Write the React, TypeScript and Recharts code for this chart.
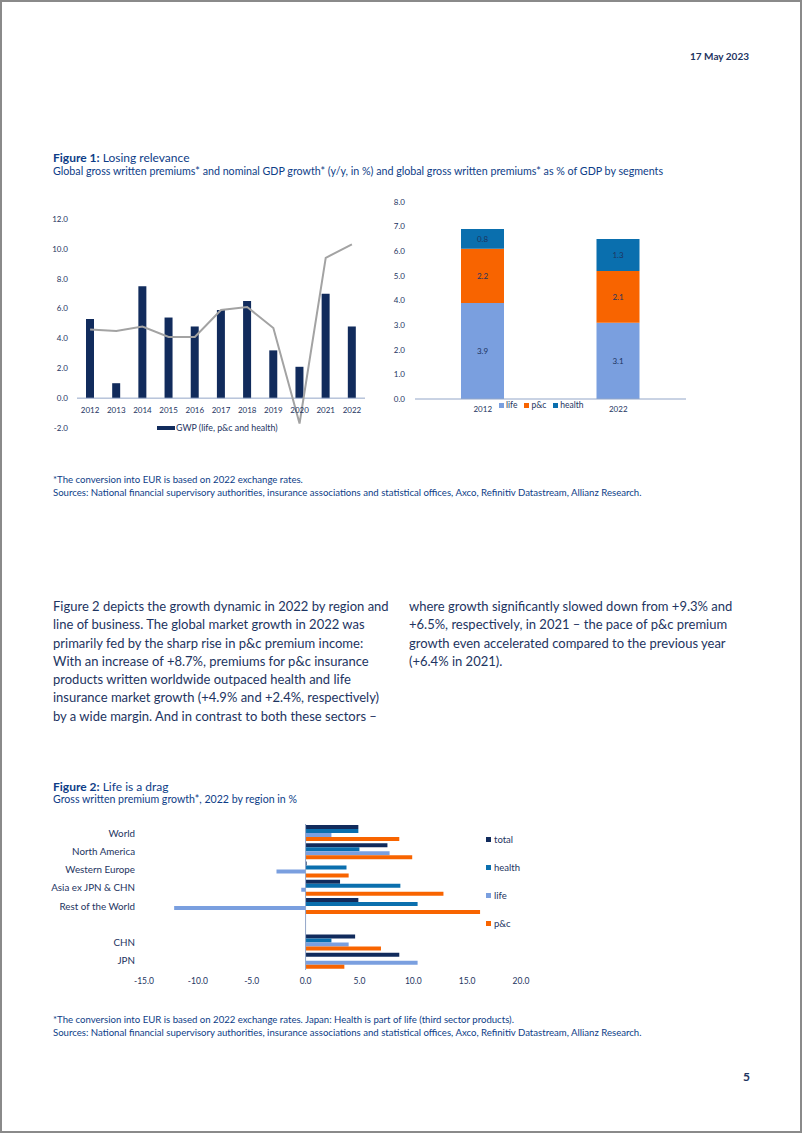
import React from 'react';
import { ComposedChart, BarChart, Bar, Line, XAxis, YAxis, ReferenceLine, Legend, LabelList } from 'recharts';

// Figure 1 (left): growth, y/y in %
const years = ['2012', '2013', '2014', '2015', '2016', '2017', '2018', '2019', '2020', '2021', '2022'];
const gwpGrowth = [5.3, 1.0, 7.5, 5.4, 4.8, 5.9, 6.5, 3.2, 2.1, 7.0, 4.8];
const gdpGrowth = [4.6, 4.5, 4.8, 4.1, 4.1, 5.9, 6.1, 4.7, -1.7, 9.4, 10.3];
const fig1Ticks = [-2, 0, 2, 4, 6, 8, 10, 12];

// Figure 1 (right): GWP as % of GDP by segment
const shareYears = ['2012', '2022'];
const lifeShare = [3.9, 3.1];
const pcShare = [2.2, 2.1];
const healthShare = [0.8, 1.3];
const shareTicks = [0, 1, 2, 3, 4, 5, 6, 7, 8];

// Figure 2: GWP growth 2022 by region, %
const regions = ['World', 'North America', 'Western Europe', 'Asia ex JPN & CHN', 'Rest of the World', ' ', 'CHN', 'JPN'];
const totalGrowth = [4.9, 7.6, 0.1, 3.2, 4.9, null, 4.6, 8.7];
const healthGrowth = [4.9, 5.0, 3.8, 8.8, 10.4, null, 2.4, null];
const lifeGrowth = [2.4, 7.8, -2.7, -0.4, -12.2, null, 4.0, 10.4];
const pcGrowth = [8.7, 9.9, 4.0, 12.8, 16.2, null, 7.0, 3.6];
const fig2Ticks = [-15, -10, -5, 0, 5, 10, 15, 20];

const NAVY = '#112b5c';
const HEALTH = '#0a6fae';
const LIFE = '#7a9fdf';
const PC = '#f86400';
const GREY = '#a3a3a3';
const AXIS = '#93a6c8';
const TXT = '#1d3461';
const BLUE = '#0d3d87';
const FONT = 'Lato, "Open Sans", sans-serif';

const fig1Data = years.map((y, i) => ({ year: y, gwp: gwpGrowth[i], gdp: gdpGrowth[i] }));
const shareData = shareYears.map((y, i) => ({ year: y, life: lifeShare[i], pc: pcShare[i], health: healthShare[i] }));
const regionData = regions.map((r, i) => ({
  region: r,
  total: totalGrowth[i],
  health: healthGrowth[i],
  life: lifeGrowth[i],
  pc: pcGrowth[i],
}));

const fmt1 = (v: number) => v.toFixed(1);

const Fig1XTick = (props: any) => {
  const { x, y, payload } = props;
  return (
    <text x={x} y={y - 15} textAnchor="middle" fill={TXT} fontSize={8} fontFamily={FONT}>
      {payload.value}
    </text>
  );
};

const RegionTick = (props: any) => {
  const { x, y, payload } = props;
  return (
    <text x={x} y={y} dy={3.4} textAnchor="end" fill={TXT} fontSize={9.8} fontFamily={FONT}>
      {payload.value}
    </text>
  );
};

const Fig1Legend = () => (
  <div style={{ display: 'flex', alignItems: 'center', fontSize: 8.8, color: TXT, fontFamily: FONT, whiteSpace: 'nowrap' }}>
    <span style={{ display: 'inline-block', width: 18, height: 4, background: NAVY, marginRight: 1 }} />
    <span>GWP (life, p&amp;c and health)</span>
  </div>
);

const ShareLegend = () => {
  const items = [
    { c: LIFE, t: 'life' },
    { c: PC, t: 'p&c' },
    { c: HEALTH, t: 'health' },
  ];
  return (
    <div style={{ display: 'flex', alignItems: 'center', fontSize: 8.5, color: TXT, fontFamily: FONT, whiteSpace: 'nowrap' }}>
      {items.map((it) => (
        <span key={it.t} style={{ display: 'flex', alignItems: 'center', marginRight: 7 }}>
          <span style={{ display: 'inline-block', width: 5, height: 5, background: it.c, marginRight: 2 }} />
          {it.t}
        </span>
      ))}
    </div>
  );
};

const RegionLegend = () => {
  const items = [
    { c: NAVY, t: 'total' },
    { c: HEALTH, t: 'health' },
    { c: LIFE, t: 'life' },
    { c: PC, t: 'p&c' },
  ];
  return (
    <div style={{ fontSize: 9.5, color: TXT, fontFamily: FONT, whiteSpace: 'nowrap' }}>
      {items.map((it) => (
        <div key={it.t} style={{ display: 'flex', alignItems: 'center', height: 28 }}>
          <span style={{ display: 'inline-block', width: 5, height: 5, background: it.c, marginRight: 3 }} />
          {it.t}
        </div>
      ))}
    </div>
  );
};

const abs = (left: number, top: number, extra: React.CSSProperties = {}): React.CSSProperties => ({
  position: 'absolute',
  left,
  top,
  whiteSpace: 'nowrap',
  ...extra,
});

const leftPara = [
  'Figure 2 depicts the growth dynamic in 2022 by region and',
  'line of business. The global market growth in 2022 was',
  'primarily fed by the sharp rise in p&c premium income:',
  'With an increase of +8.7%, premiums for p&c insurance',
  'products written worldwide outpaced health and life',
  'insurance market growth (+4.9% and +2.4%, respectively)',
  'by a wide margin. And in contrast to both these sectors –',
];
const rightPara = [
  'where growth significantly slowed down from +9.3% and',
  '+6.5%, respectively, in 2021 – the pace of p&c premium',
  'growth even accelerated compared to the previous year',
  '(+6.4% in 2021).',
];
const sources =
  'Sources: National financial supervisory authorities, insurance associations and statistical offices, Axco, Refinitiv Datastream, Allianz Research.';

export default function App() {
  return (
    <div
      style={{
        position: 'absolute',
        left: 0,
        top: 0,
        width: 802,
        height: 1133,
        boxSizing: 'border-box',
        border: '2px solid #8a8a8a',
        background: '#fff',
        fontFamily: FONT,
        overflow: 'hidden',
      }}
    >
      <div style={{ position: 'absolute', left: -2, top: -2, width: 802, height: 1133 }}>
        <div style={abs(0, 50, { width: 749, textAlign: 'right', fontSize: 10, fontWeight: 700, color: TXT })}>17 May 2023</div>

        <div style={abs(53, 150, { fontSize: 12, color: BLUE })}>
          <b>Figure 1:</b> Losing relevance
        </div>
        <div style={abs(53, 164, { fontSize: 10.7, color: BLUE })}>
          Global gross written premiums* and nominal GDP growth* (y/y, in %) and global gross written premiums* as % of GDP by segments
        </div>

        {/* Figure 1 left chart */}
        <div style={abs(30, 200)}>
          <ComposedChart width={340} height={240} data={fig1Data} margin={{ top: 19, right: 5, bottom: 0, left: 0 }}>
            <XAxis
              dataKey="year"
              axisLine={false}
              tickLine={false}
              tickSize={0}
              tickMargin={0}
              height={12}
              tick={<Fig1XTick />}
              interval={0}
            />
            <YAxis
              domain={[-2, 12]}
              ticks={fig1Ticks}
              tickFormatter={fmt1}
              axisLine={false}
              tickLine={false}
              tickSize={0}
              tickMargin={9}
              width={47}
              tick={{ fill: TXT, fontSize: 8, fontFamily: FONT }}
              interval={0}
            />
            <ReferenceLine y={0} stroke={AXIS} strokeWidth={1} />
            <Bar dataKey="gwp" fill={NAVY} barSize={8} isAnimationActive={false} legendType="rect" />
            <Line dataKey="gdp" stroke={GREY} strokeWidth={2} dot={false} type="linear" isAnimationActive={false} />
            <Legend
              layout="horizontal"
              align="center"
              verticalAlign="middle"
              content={<Fig1Legend />}
              wrapperStyle={{ position: 'absolute', left: 127, top: 222, width: 'auto', height: 'auto' }}
            />
          </ComposedChart>
        </div>

        {/* Figure 1 right chart */}
        <div style={abs(380, 190)}>
          <BarChart width={310} height={230} data={shareData} margin={{ top: 12, right: 4, bottom: 0, left: 0 }}>
            <XAxis
              dataKey="year"
              axisLine={{ stroke: AXIS }}
              tickLine={false}
              tickSize={0}
              tickMargin={7}
              height={21}
              tick={{ fill: TXT, fontSize: 8, fontFamily: FONT }}
            />
            <YAxis
              domain={[0, 8]}
              ticks={shareTicks}
              tickFormatter={fmt1}
              axisLine={false}
              tickLine={false}
              tickSize={0}
              tickMargin={10}
              width={35}
              tick={{ fill: TXT, fontSize: 8, fontFamily: FONT }}
              interval={0}
            />
            <Bar dataKey="life" stackId="a" fill={LIFE} barSize={43} isAnimationActive={false}>
              <LabelList dataKey="life" position="center" fill={TXT} fontSize={8} fontFamily={FONT} formatter={(v: any) => fmt1(Number(v))} />
            </Bar>
            <Bar dataKey="pc" stackId="a" fill={PC} barSize={43} isAnimationActive={false}>
              <LabelList dataKey="pc" position="center" fill={TXT} fontSize={8} fontFamily={FONT} formatter={(v: any) => fmt1(Number(v))} />
            </Bar>
            <Bar dataKey="health" stackId="a" fill={HEALTH} barSize={43} isAnimationActive={false}>
              <LabelList dataKey="health" position="center" fill={TXT} fontSize={8} fontFamily={FONT} formatter={(v: any) => fmt1(Number(v))} />
            </Bar>
            <Legend
              layout="horizontal"
              align="center"
              verticalAlign="middle"
              content={<ShareLegend />}
              wrapperStyle={{ position: 'absolute', left: 119, top: 210, width: 'auto', height: 'auto' }}
            />
          </BarChart>
        </div>

        <div style={abs(53, 473, { fontSize: 9.6, color: BLUE, lineHeight: '13px' })}>
          <div>*The conversion into EUR is based on 2022 exchange rates.</div>
          <div>{sources}</div>
        </div>

        <div style={abs(53, 597, { fontSize: 13, color: TXT, lineHeight: '18.3px' })}>
          {leftPara.map((l) => (
            <div key={l}>{l}</div>
          ))}
        </div>
        <div style={abs(409, 597, { fontSize: 13, color: TXT, lineHeight: '18.3px' })}>
          {rightPara.map((l) => (
            <div key={l}>{l}</div>
          ))}
        </div>

        <div style={abs(53, 779, { fontSize: 12, color: BLUE })}>
          <b>Figure 2:</b> Life is a drag
        </div>
        <div style={abs(53, 793, { fontSize: 10.6, color: BLUE })}>Gross written premium growth*, 2022 by region in %</div>

        {/* Figure 2 chart */}
        <div style={abs(40, 815)}>
          <BarChart
            width={540}
            height={180}
            data={regionData}
            layout="vertical"
            barGap={0}
            margin={{ top: 9, right: 59, bottom: 0, left: 0 }}
          >
            <XAxis
              type="number"
              domain={[-15, 20]}
              ticks={fig2Ticks}
              tickFormatter={fmt1}
              axisLine={false}
              tickLine={false}
              tickSize={0}
              tickMargin={8}
              height={25}
              tick={{ fill: TXT, fontSize: 8.5, fontFamily: FONT }}
              interval={0}
            />
            <YAxis
              type="category"
              dataKey="region"
              axisLine={false}
              tickLine={false}
              tickSize={0}
              tickMargin={9}
              width={104}
              tick={<RegionTick />}
              interval={0}
            />
            <ReferenceLine x={0} stroke={AXIS} strokeWidth={1} />
            <Bar dataKey="total" fill={NAVY} barSize={4} isAnimationActive={false} />
            <Bar dataKey="health" fill={HEALTH} barSize={4} isAnimationActive={false} />
            <Bar dataKey="life" fill={LIFE} barSize={4} isAnimationActive={false} />
            <Bar dataKey="pc" fill={PC} barSize={4} isAnimationActive={false} />
            <Legend
              layout="horizontal"
              align="center"
              verticalAlign="middle"
              content={<RegionLegend />}
              wrapperStyle={{ position: 'absolute', left: 446, top: 10, width: 'auto', height: 'auto' }}
            />
          </BarChart>
        </div>

        <div style={abs(53, 1014, { fontSize: 9.6, color: BLUE, lineHeight: '12.5px' })}>
          <div>*The conversion into EUR is based on 2022 exchange rates. Japan: Health is part of life (third sector products).</div>
          <div>{sources}</div>
        </div>

        <div style={abs(0, 1069, { width: 750, textAlign: 'right', fontSize: 12, fontWeight: 700, color: TXT })}>5</div>
      </div>
    </div>
  );
}
